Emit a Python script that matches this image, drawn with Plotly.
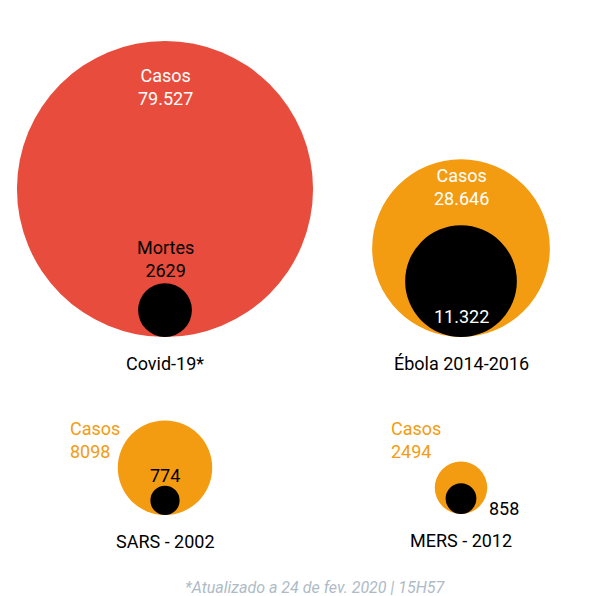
import plotly.graph_objects as go
import math

diseases = ["Covid-19*", "Ébola 2014-2016", "SARS - 2002", "MERS - 2012"]
cases = [79527, 28646, 8098, 2494]
deaths = [2629, 11322, 774, 858]
case_labels = ["79.527", "28.646", "8098", "2494"]
death_labels = ["2629", "11.322", "774", "858"]
case_colors = ["#E74C3C", "#F39C12", "#F39C12", "#F39C12"]

W, H = 613, 596
k = 0.525  # px per sqrt(person)
centers_x = [157, 453, 157, 453]
bottoms = [329, 329, 507, 506]

fig = go.Figure()
shapes, ann = [], []

def circle(cx, cy, r, color):
    return dict(type="circle", xref="x", yref="y", x0=cx - r, x1=cx + r,
                y0=cy - r, y1=cy + r, fillcolor=color, line=dict(width=0), layer="below")

font = "Roboto"
for i in range(4):
    cx, b = centers_x[i], bottoms[i]
    rc = k * math.sqrt(cases[i])
    rd = k * math.sqrt(deaths[i])
    shapes.append(circle(cx, b - rc, rc, case_colors[i]))
    shapes.append(circle(cx, b - rd, rd, "black"))
    ann.append(dict(x=cx, y=b + 26, text=diseases[i], showarrow=False,
                    font=dict(family=font, size=18, color="black")))

# case/death labels
ann += [
    dict(x=157, y=79, text="Casos<br>" + case_labels[0], font=dict(size=18, color="white")),
    dict(x=157, y=251, text="Mortes<br>" + death_labels[0], font=dict(size=18, color="black")),
    dict(x=453, y=179, text="Casos<br>" + case_labels[1], font=dict(size=18, color="white")),
    dict(x=453, y=308, text=death_labels[1], font=dict(size=18, color="white")),
    dict(x=60, y=432, text="Casos<br>" + case_labels[2], xanchor="left", align="left",
         font=dict(size=18, color="#F39C12")),
    dict(x=157, y=467, text=death_labels[2], font=dict(size=18, color="black")),
    dict(x=381, y=432, text="Casos<br>" + case_labels[3], xanchor="left", align="left",
         font=dict(size=18, color="#F39C12")),
    dict(x=479, y=500, text=death_labels[3], xanchor="left", font=dict(size=18, color="black")),
    dict(x=307, y=579, text="<i>*Atualizado a 24 de fev. 2020 | 15H57</i>",
         font=dict(size=16, color="#AEBBC7")),
]
for a in ann:
    a.setdefault("showarrow", False)
    a["xref"] = "x"
    a["yref"] = "y"
    a["font"].setdefault("family", font)

fig.update_layout(
    width=W, height=H, margin=dict(l=0, r=0, t=0, b=0),
    plot_bgcolor="white", paper_bgcolor="white",
    xaxis=dict(range=[0, W], visible=False, fixedrange=True),
    yaxis=dict(range=[H, 0], visible=False, fixedrange=True),
    shapes=shapes, annotations=ann, showlegend=False,
)
fig.write_html("out.html")
